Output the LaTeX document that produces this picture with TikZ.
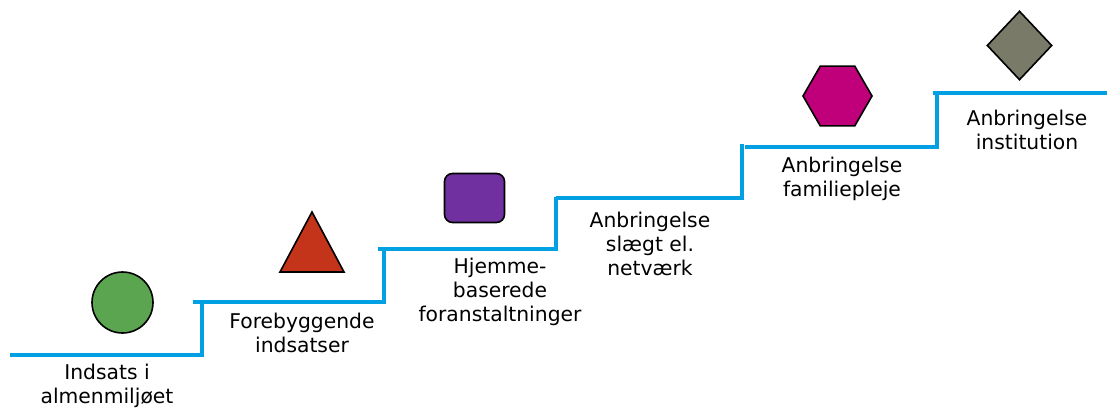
\documentclass[tikz,border=0pt]{standalone}
\usepackage{fontspec}
\setmainfont{DejaVu Sans}
\usetikzlibrary{shapes.geometric}
\definecolor{stairblue}{HTML}{00A0E3}
\definecolor{iconGreen}{HTML}{5BA550}
\definecolor{iconRed}{HTML}{C4341A}
\definecolor{iconPurple}{HTML}{7030A0}
\definecolor{iconMagenta}{HTML}{C0007A}
\definecolor{iconGrey}{HTML}{7A7A68}
\begin{document}
\begin{tikzpicture}[
      x=1pt, y=-1pt,
      stairline/.style={draw=stairblue, line width=3.2pt},
      lbl/.style={font=\fontsize{20.3}{24}\selectfont, align=center,
                  text=black, inner sep=0pt},
      icon/.style={draw=black, line width=1.6pt, inner sep=0pt}
    ]
      \useasboundingbox (0,0) rectangle (1107,409);
      % the stairs
      \foreach \xa/\xb/\yy/\yt in {10/202/355/301, 193/384/302/248,
          378/556/249/197, 556/742/198/144, 745/937/147/92} {
        \draw[stairline] (\xa,\yy) -- (\xb,\yy) -- (\xb,\yt);
      }
      \draw[stairline] (933,93) -- (1107,93);
      % icons above each step
      \node[icon, circle, fill=iconGreen, minimum size=61pt] (almen) at (122.5,302.5) {};
      \draw[icon, fill=iconRed] (280,272) -- (312,212) -- (344,272) -- cycle;
      \node[icon, rectangle, rounded corners=8pt, fill=iconPurple,
            minimum width=60pt, minimum height=49pt] (hjemme) at (474.5,198) {};
      \node[icon, regular polygon, regular polygon sides=6, fill=iconMagenta,
            minimum size=69pt] (pleje) at (837.5,96) {};
      \node[icon, diamond, fill=iconGrey, minimum width=65pt,
            minimum height=69pt] (inst) at (1019.5,45.5) {};
      % labels under each step
      \node[lbl] (lalmen) at (107,386) {Indsats i\\almenmiljøet};
      \node[lbl] (lfore) at (302,333) {Forebyggende\\indsatser};
      \node[lbl] (lhjemme) at (500,292) {Hjemme-\\baserede\\foranstaltninger};
      \node[lbl] (lslaegt) at (650,244) {Anbringelse\\slægt el.\\netværk};
      \node[lbl] (lpleje) at (842,179) {Anbringelse\\familiepleje};
      \node[lbl] (linst) at (1027,130) {Anbringelse\\institution};
    \end{tikzpicture}
\end{document}
